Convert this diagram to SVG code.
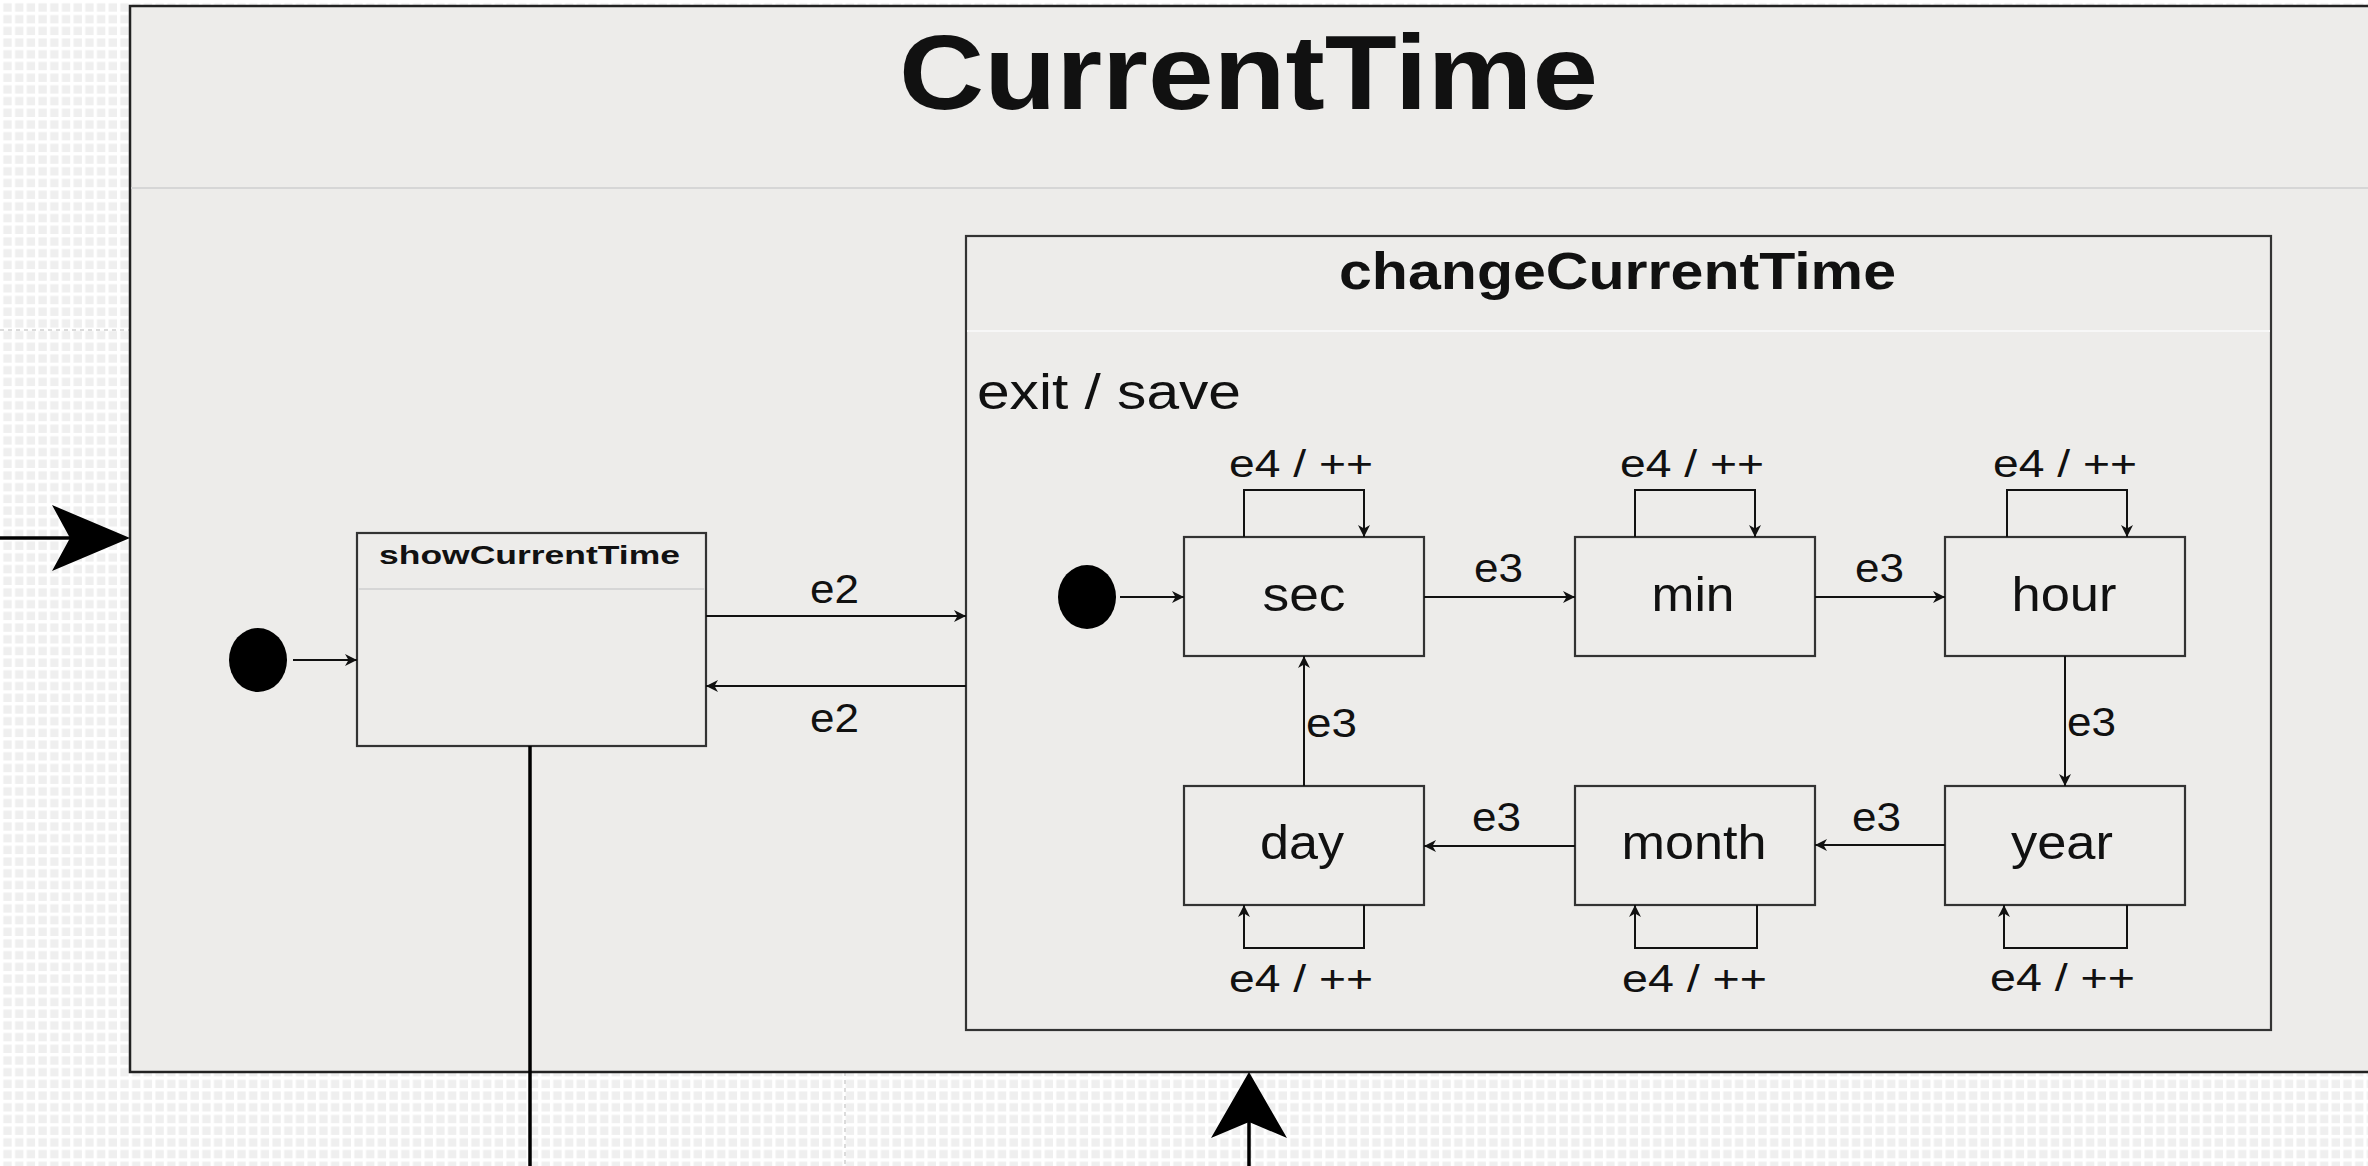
<svg xmlns="http://www.w3.org/2000/svg" width="2368" height="1166" viewBox="0 0 2368 1166">
  <defs>
    <!-- editor canvas grid -->
    <pattern id="grid" x="0" y="0" width="11.7" height="11.7" patternUnits="userSpaceOnUse">
      <rect width="11.7" height="11.7" fill="#ffffff"/>
      <rect x="3.4" y="3.4" width="8.3" height="8.3" fill="#efefef"/>
    </pattern>
    <marker id="arrow" markerWidth="12" markerHeight="12" refX="12" refY="6" orient="auto" markerUnits="userSpaceOnUse">
      <path d="M0,0 L12,6 L0,12 L3.5,6 z" fill="#111"/>
    </marker>
  </defs>
  <style>
    text { font-family: "Liberation Sans", Arial, Helvetica, sans-serif; fill: #111; }
    .title { font-size: 105px; font-weight: bold; }
    .subtitle { font-size: 52px; font-weight: bold; }
    .small-title { font-size: 26px; font-weight: bold; }
    .action { font-size: 50px; }
    .state-label { font-size: 49px; text-anchor: middle; }
    .evt { font-size: 40px; }
    .loop-evt { font-size: 38px; }
    .composite { fill: #edecea; stroke: #222; stroke-width: 2.5; }
    .state { fill: #edecea; stroke: #333; stroke-width: 2.2; }
    .sep { stroke: #d6d6d6; stroke-width: 2; }
    .sep-light { stroke: #f7f7f7; stroke-width: 2; }
    .initial { fill: #000; }
    .edge { fill: none; stroke: #111; stroke-width: 2; }
    .edge-arrow { fill: none; stroke: #111; stroke-width: 2; marker-end: url(#arrow); }
    .heavy { fill: none; stroke: #000; stroke-width: 3.5; }
    .big-head { fill: #000; }
    .guide { stroke: #cfcfcf; stroke-width: 1.5; stroke-dasharray: 4 4; }
  </style>

  <!-- canvas -->
  <rect x="0" y="0" width="2368" height="1166" fill="url(#grid)"/>
  <line class="guide" x1="0" y1="330" x2="130" y2="330"/>
  <line class="guide" x1="845" y1="1072" x2="845" y2="1166"/>

  <!-- outer composite state -->
  <g id="CurrentTime">
    <rect class="composite" x="130" y="6" width="2300" height="1066"/>
    <line class="sep" x1="131" y1="188" x2="2368" y2="188"/>
    <text class="title" x="899" y="109" textLength="699" lengthAdjust="spacingAndGlyphs">CurrentTime</text>
  </g>

  <g id="init-outer">
    <ellipse class="initial" cx="258" cy="660" rx="29" ry="32"/>
  </g>

  <g id="showCurrentTime">
    <rect class="state" x="357" y="533" width="349" height="213"/>
    <line class="sep" x1="358" y1="589" x2="705" y2="589"/>
    <text class="small-title" x="379" y="564" textLength="301" lengthAdjust="spacingAndGlyphs">showCurrentTime</text>
  </g>

  <g id="changeCurrentTime">
    <rect class="state" x="966" y="236" width="1305" height="794"/>
    <line class="sep-light" x1="967" y1="331" x2="2270" y2="331"/>
    <text class="subtitle" x="1339" y="289" textLength="557" lengthAdjust="spacingAndGlyphs">changeCurrentTime</text>
    <text class="action" x="977" y="409" textLength="264" lengthAdjust="spacingAndGlyphs">exit / save</text>
  </g>

  <g id="init-inner">
    <ellipse class="initial" cx="1087" cy="597" rx="29" ry="32"/>
  </g>

  <g id="sec">
    <rect class="state" x="1184" y="537" width="240" height="119"/>
    <text class="state-label" x="1304" y="611" textLength="83" lengthAdjust="spacingAndGlyphs">sec</text>
  </g>
  <g id="min">
    <rect class="state" x="1575" y="537" width="240" height="119"/>
    <text class="state-label" x="1693" y="611" textLength="83" lengthAdjust="spacingAndGlyphs">min</text>
  </g>
  <g id="hour">
    <rect class="state" x="1945" y="537" width="240" height="119"/>
    <text class="state-label" x="2064" y="611" textLength="105" lengthAdjust="spacingAndGlyphs">hour</text>
  </g>
  <g id="day">
    <rect class="state" x="1184" y="786" width="240" height="119"/>
    <text class="state-label" x="1302" y="859" textLength="84" lengthAdjust="spacingAndGlyphs">day</text>
  </g>
  <g id="month">
    <rect class="state" x="1575" y="786" width="240" height="119"/>
    <text class="state-label" x="1694" y="859" textLength="145" lengthAdjust="spacingAndGlyphs">month</text>
  </g>
  <g id="year">
    <rect class="state" x="1945" y="786" width="240" height="119"/>
    <text class="state-label" x="2062" y="859" textLength="102" lengthAdjust="spacingAndGlyphs">year</text>
  </g>

  <g id="connectors">
    <!-- entry into CurrentTime from the left -->
    <line class="heavy" x1="0" y1="538" x2="72" y2="538"/>
    <path class="big-head" d="M130,538 L52,505 L70,538 L52,571 z"/>
    <!-- entry into CurrentTime from below -->
    <line class="heavy" x1="1249" y1="1120" x2="1249" y2="1166"/>
    <path class="big-head" d="M1249,1072 L1287,1138 L1249,1122 L1211,1138 z"/>
    <!-- outgoing line below showCurrentTime -->
    <line class="heavy" x1="530" y1="746" x2="530" y2="1166"/>

    <!-- initial transitions -->
    <line class="edge-arrow" x1="293" y1="660" x2="357" y2="660"/>
    <line class="edge-arrow" x1="1120" y1="597" x2="1184" y2="597"/>

    <!-- e2 between showCurrentTime and changeCurrentTime -->
    <line class="edge-arrow" x1="706" y1="616" x2="966" y2="616"/>
    <text class="evt" x="810" y="603" textLength="49" lengthAdjust="spacingAndGlyphs">e2</text>
    <line class="edge-arrow" x1="966" y1="686" x2="706" y2="686"/>
    <text class="evt" x="810" y="732" textLength="49" lengthAdjust="spacingAndGlyphs">e2</text>

    <!-- e3 cycle -->
    <line class="edge-arrow" x1="1424" y1="597" x2="1575" y2="597"/>
    <text class="evt" x="1474" y="582" textLength="49" lengthAdjust="spacingAndGlyphs">e3</text>
    <line class="edge-arrow" x1="1815" y1="597" x2="1945" y2="597"/>
    <text class="evt" x="1855" y="582" textLength="49" lengthAdjust="spacingAndGlyphs">e3</text>
    <line class="edge-arrow" x1="2065" y1="656" x2="2065" y2="786"/>
    <text class="evt" x="2067" y="736" textLength="49" lengthAdjust="spacingAndGlyphs">e3</text>
    <line class="edge-arrow" x1="1945" y1="845" x2="1815" y2="845"/>
    <text class="evt" x="1852" y="831" textLength="49" lengthAdjust="spacingAndGlyphs">e3</text>
    <line class="edge-arrow" x1="1575" y1="846" x2="1424" y2="846"/>
    <text class="evt" x="1472" y="831" textLength="49" lengthAdjust="spacingAndGlyphs">e3</text>
    <line class="edge-arrow" x1="1304" y1="786" x2="1304" y2="656"/>
    <text class="evt" x="1306" y="737" textLength="51" lengthAdjust="spacingAndGlyphs">e3</text>

    <!-- e4 self-loops -->
    <path class="edge-arrow" d="M1244,537 V490 H1364 V537"/>
    <text class="loop-evt" x="1229" y="477" textLength="144" lengthAdjust="spacingAndGlyphs">e4 / ++</text>
    <path class="edge-arrow" d="M1635,537 V490 H1755 V537"/>
    <text class="loop-evt" x="1620" y="477" textLength="144" lengthAdjust="spacingAndGlyphs">e4 / ++</text>
    <path class="edge-arrow" d="M2007,537 V490 H2127 V537"/>
    <text class="loop-evt" x="1993" y="477" textLength="144" lengthAdjust="spacingAndGlyphs">e4 / ++</text>
    <path class="edge-arrow" d="M1364,905 V948 H1244 V905"/>
    <text class="loop-evt" x="1229" y="992" textLength="144" lengthAdjust="spacingAndGlyphs">e4 / ++</text>
    <path class="edge-arrow" d="M1757,905 V948 H1635 V905"/>
    <text class="loop-evt" x="1622" y="992" textLength="145" lengthAdjust="spacingAndGlyphs">e4 / ++</text>
    <path class="edge-arrow" d="M2127,905 V948 H2004 V905"/>
    <text class="loop-evt" x="1990" y="991" textLength="145" lengthAdjust="spacingAndGlyphs">e4 / ++</text>
  </g>
</svg>
